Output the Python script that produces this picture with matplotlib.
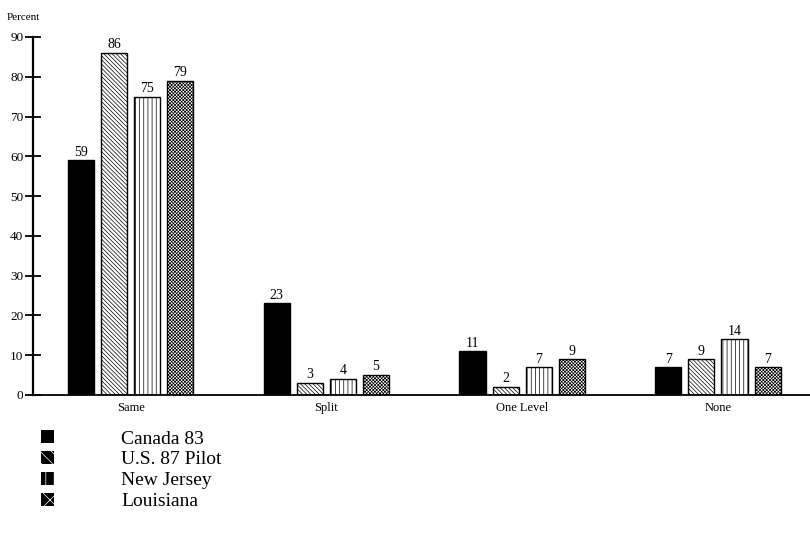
import numpy as np
import matplotlib
matplotlib.use("Agg")
import matplotlib.pyplot as plt
from matplotlib.patches import Patch

plt.rcParams['font.family'] = ['Liberation Serif', 'DejaVu Serif']
plt.rcParams['hatch.linewidth'] = 0.5

# Data
categories = ["Same", "Split", "One Level", "None"]
series = ["Canada 83", "U.S. 87 Pilot", "New Jersey", "Louisiana"]
canada = [59, 23, 11, 7]
us_pilot = [86, 3, 2, 9]
new_jersey = [75, 4, 7, 14]
louisiana = [79, 5, 9, 7]
yticks = [0, 10, 20, 30, 40, 50, 60, 70, 80, 90]

values = [canada, us_pilot, new_jersey, louisiana]
faces = ["black", "white", "white", "white"]
hatches = [None, "\\\\\\\\\\\\\\\\", "||||", "xxxxxxxxxx"]

fig = plt.figure(figsize=(8.1, 5.44), dpi=100)
ax = fig.add_axes([0.041, 0.274, 0.959, 0.658])

x = np.arange(len(categories))
width = 0.133
step = 0.169
for i, vals in enumerate(values):
    pos = x + (i - 1.5) * step
    bars = ax.bar(pos, vals, width, color=faces[i], edgecolor="black",
                  hatch=hatches[i], linewidth=1.0, zorder=2)
    for b, v in zip(bars, vals):
        ax.text(b.get_x() + b.get_width() / 2, v + 0.4, str(v),
                ha="center", va="bottom", fontsize=10)

ax.set_xlim(-0.497, 3.47)
ax.set_ylim(0, 90)
ax.set_xticks(x)
ax.set_xticklabels(categories, fontsize=9)
ax.tick_params(axis="x", length=0, pad=5)
ax.set_yticks(yticks)
ax.tick_params(axis="y", direction="inout", length=12, width=1.3, labelsize=9.5, pad=1)

for s in ["top", "right"]:
    ax.spines[s].set_visible(False)
ax.spines["left"].set_linewidth(1.6)
ax.spines["bottom"].set_linewidth(1.3)

fig.text(0.008, 0.96, "Percent", fontsize=8, ha="left", va="bottom")

handles = [Patch(facecolor="black", edgecolor="white", hatch=h, linewidth=0)
           for h in [None, "\\\\\\", "||", "xx"]]
leg = fig.legend(handles, series, loc="upper left", bbox_to_anchor=(0.039, 0.227),
                 frameon=False, fontsize=14, handlelength=0.65, handleheight=0.65,
                 handletextpad=3.45, labelspacing=0.18, borderpad=0)

fig.savefig("out.png", dpi=100)
